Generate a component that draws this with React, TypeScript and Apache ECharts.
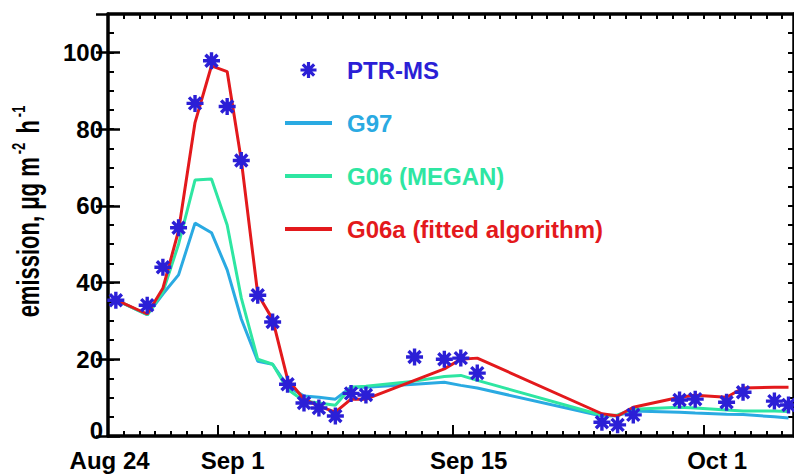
import React, { useEffect, useRef } from 'react';
import * as echarts from 'echarts';

// x: days since Aug 24 (0 = left edge of the plot)
const days = [0.5, 2.5, 3.5, 4.5, 5.55, 6.6, 7.6, 8.5, 9.55, 10.5, 11.45, 12.5, 13.45, 14.5, 15.5, 16.45, 19.55, 21.45, 22.5, 23.55, 31.5, 32.5, 33.5, 36.45, 37.45, 39.45, 40.5, 42.5, 43.4];
const ptrms = [35.4, 34.1, 44.0, 54.3, 86.7, 97.8, 85.9, 71.8, 36.7, 29.7, 13.5, 8.6, 7.3, 5.2, 11.1, 10.7, 20.6, 20.0, 20.3, 16.4, 3.6, 2.9, 5.5, 9.4, 9.6, 8.8, 11.4, 9.1, 8.1];
const g97 = [35.5, 31.6, 37, 42, 55.5, 53, 43.3, 30.5, 19.5, 18.7, 13, 10.4, 10.1, 9.6, 12.7, 12.7, 13.5, 14, 13.2, 12.5, 5.2, 5.3, 6.5, 6.2, 6, 5.7, 5.6, 5, 4.7];
const g06 = [35.5, 31.6, 37.5, 50, 66.7, 67, 55, 36, 20, 18.7, 12.2, 9.1, 8.6, 8, 12.7, 13, 14.3, 15.5, 15.8, 14.5, 5.4, 5.5, 7, 7.5, 7.3, 6.8, 6.5, 6.5, 6.4];
const g06a = [35.5, 31.8, 38.5, 53.5, 81.7, 96.5, 95, 71.9, 37, 30.4, 14.8, 9.6, 7.8, 6.2, 9.6, 9.6, 14.5, 17.5, 20, 20.3, 5.8, 5.2, 7.5, 10.1, 10.6, 10.1, 12.5, 12.7, 12.7];

const xLabels = ['Aug 24', 'Sep 1', 'Sep 15', 'Oct 1'];
const xLabelPos = [0.1, 7.95, 23, 38.85];
const xMajorTicks = [7, 22, 38];
const yLabelValues = [0, 20, 40, 60, 80, 100];

const seriesNames = ['PTR-MS', 'G97', 'G06 (MEGAN)', 'G06a (fitted algorithm)'];
const seriesColors = ['#2b1fd6', '#2aaae2', '#2ee6a2', '#e3191c'];

const ASTERISK =
  'path://M-1.8 -9L1.8 -9L1.8 9L-1.8 9Z M9 -1.8L9 1.8L-9 1.8L-9 -1.8Z M-5.09 -7.63L7.63 5.09L5.09 7.63L-7.63 -5.09Z M7.63 -5.09L-5.09 7.63L-7.63 5.09L5.09 -7.63Z';

const FONT = '"Liberation Sans", Arial, Helvetica, sans-serif';

export default function App() {
  const ref = useRef<HTMLDivElement>(null);
  useEffect(() => {
    const chart = echarts.init(ref.current as HTMLDivElement, null, { renderer: 'svg' });
    const pair = (arr: number[]) => days.map((d, i) => [d, arr[i]]);
    const X_MAX = 43.75;
    const axisLine = { show: true, onZero: false, lineStyle: { color: '#000', width: 3.5 } };
    const noLine = { show: false };
    const baseX = { type: 'value', min: 0, max: X_MAX, splitLine: { show: false } };
    const baseY = { type: 'value', min: 0, max: 110, splitLine: { show: false } };
    const option: any = {
      animation: false,
      backgroundColor: '#fff',
      textStyle: { fontFamily: FONT },
      grid: { left: 108, top: 14, width: 689, height: 422, containLabel: false },
      xAxis: [
        {
          ...baseX,
          position: 'bottom',
          interval: 1,
          axisLine,
          axisTick: { show: true, inside: true, length: 5, lineStyle: { color: '#000', width: 2 } },
          axisLabel: { show: false },
        },
        {
          ...baseX,
          position: 'bottom',
          axisLine: noLine,
          axisTick: {
            show: true,
            inside: true,
            length: 11,
            customValues: xMajorTicks,
            lineStyle: { color: '#000', width: 2 },
          },
          axisLabel: {
            show: true,
            customValues: xLabelPos,
            margin: 12,
            fontSize: 24,
            fontWeight: 'bold',
            fontFamily: FONT,
            color: '#000',
            formatter: (v: number) => {
              const i = xLabelPos.findIndex((p) => Math.abs(p - v) < 1e-6);
              return i >= 0 ? xLabels[i] : '';
            },
          },
        },
        {
          ...baseX,
          position: 'top',
          interval: 1,
          axisLine,
          axisTick: { show: true, inside: true, length: 5, lineStyle: { color: '#000', width: 2 } },
          axisLabel: { show: false },
        },
      ],
      yAxis: [
        {
          ...baseY,
          position: 'left',
          interval: 5,
          axisLine,
          axisTick: { show: true, inside: true, length: 6, lineStyle: { color: '#000', width: 2 } },
          axisLabel: { show: false },
        },
        {
          ...baseY,
          position: 'left',
          interval: 20,
          axisLine: noLine,
          axisTick: { show: true, inside: true, length: 12, lineStyle: { color: '#000', width: 2.5 } },
          axisLabel: {
            show: true,
            showMaxLabel: false,
            margin: 5,
            fontSize: 24,
            fontWeight: 'bold',
            fontFamily: FONT,
            color: '#000',
            formatter: (v: number) =>
              yLabelValues.indexOf(v) < 0 ? '' : v === 0 ? '{z|0}' : String(v),
            rich: {
              z: { fontSize: 24, fontWeight: 'bold', fontFamily: FONT, color: '#000', padding: [0, 0, 12, 0] },
            },
          },
        },
        {
          ...baseY,
          position: 'right',
          interval: 5,
          axisLine,
          axisTick: { show: true, inside: true, length: 6, lineStyle: { color: '#000', width: 2 } },
          axisLabel: { show: false },
        },
        {
          ...baseY,
          position: 'right',
          interval: 20,
          axisLine: noLine,
          axisTick: { show: true, inside: true, length: 12, lineStyle: { color: '#000', width: 2.5 } },
          axisLabel: { show: false },
        },
      ],
      legend: {
        orient: 'vertical',
        left: 283,
        top: 58,
        padding: 0,
        itemWidth: 47,
        itemHeight: 16,
        itemGap: 29,
        selectedMode: false,
        textStyle: { fontSize: 24, fontWeight: 'bold', fontFamily: FONT, lineHeight: 24, padding: [0, 0, 0, 10] },
        data: seriesNames.map((n, i) => ({
          name: n,
          textStyle: { color: seriesColors[i] },
          ...(i > 0
            ? { lineStyle: { width: 4 }, itemStyle: { opacity: 0, borderWidth: 0 } }
            : {}),
        })),
      },
      graphic: [
        {
          type: 'text',
          x: 29,
          y: 210,
          rotation: Math.PI / 2,
          scaleY: 1.4,
          style: {
            text: '{b|emission, μg m}{s|-2}{b| h}{s|-1}',
            align: 'center',
            verticalAlign: 'middle',
            rich: {
              b: { fontSize: 22, fontWeight: 'bold', fontFamily: FONT, fill: '#000', lineHeight: 28, verticalAlign: 'middle' },
              s: { fontSize: 13, fontWeight: 'bold', fontFamily: FONT, fill: '#000', lineHeight: 13, verticalAlign: 'top', padding: [0, 3, 0, 3] },
            },
          },
        },
      ],
      series: [
        {
          name: seriesNames[1],
          type: 'line',
          data: pair(g97),
          symbol: 'none',
          lineStyle: { color: seriesColors[1], width: 3 },
          itemStyle: { color: seriesColors[1] },
          z: 2,
        },
        {
          name: seriesNames[2],
          type: 'line',
          data: pair(g06),
          symbol: 'none',
          lineStyle: { color: seriesColors[2], width: 3 },
          itemStyle: { color: seriesColors[2] },
          z: 3,
        },
        {
          name: seriesNames[3],
          type: 'line',
          data: pair(g06a),
          symbol: 'none',
          lineStyle: { color: seriesColors[3], width: 3 },
          itemStyle: { color: seriesColors[3] },
          z: 4,
        },
        {
          name: seriesNames[0],
          type: 'scatter',
          data: pair(ptrms),
          symbol: ASTERISK,
          symbolSize: 17,
          symbolKeepAspect: true,
          itemStyle: { color: seriesColors[0], opacity: 1 },
          z: 5,
        },
      ],
    };
    chart.setOption(option);
    return () => chart.dispose();
  }, []);
  return (
    <div
      ref={ref}
      style={{ position: 'fixed', left: 0, top: 0, width: 794, height: 475, background: '#fff' }}
    />
  );
}
